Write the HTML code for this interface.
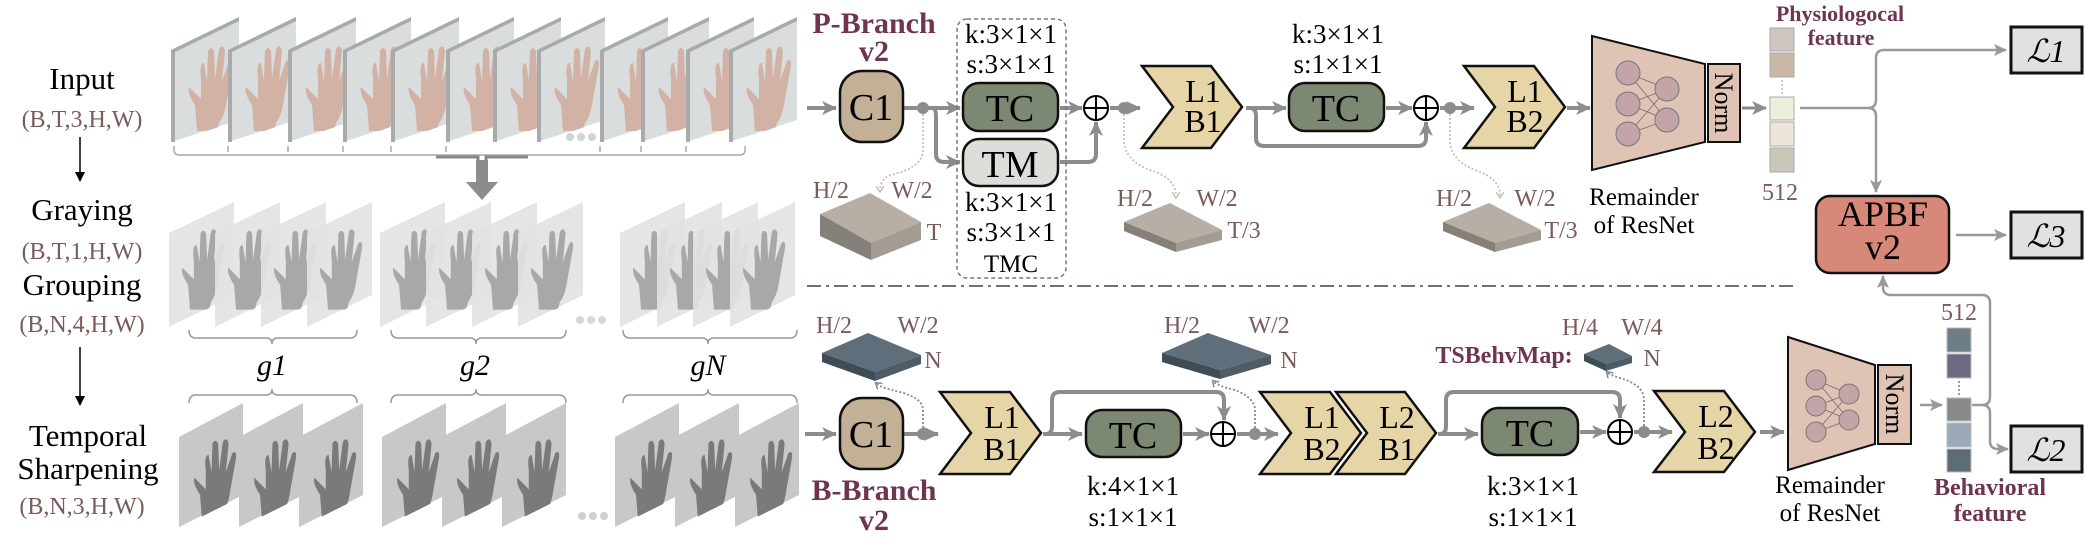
<!DOCTYPE html>
<html><head><meta charset="utf-8"><style>
html,body{margin:0;padding:0;background:#fff;}
svg{display:block;font-family:"Liberation Serif","DejaVu Serif",serif;}
svg text{font-family:"Liberation Serif","DejaVu Serif",serif;}
</style></head><body>
<svg width="2085" height="541" viewBox="0 0 2085 541" xmlns="http://www.w3.org/2000/svg" font-family="Liberation Serif, DejaVu Serif, serif">
<defs>
<marker id="ah" markerUnits="userSpaceOnUse" markerWidth="16" markerHeight="16" refX="14" refY="8" orient="auto"><path d="M0,1 L15,8 L0,15 L4,8 Z" fill="#8c8c8c"/></marker>
<marker id="ahs" markerUnits="userSpaceOnUse" markerWidth="14" markerHeight="12" refX="12" refY="6" orient="auto"><path d="M0,0 L13,6 L0,12 L3,6 Z" fill="#999"/></marker>
<marker id="ahd" markerUnits="userSpaceOnUse" markerWidth="8" markerHeight="8" refX="4" refY="4" orient="auto"><path d="M0,0 L6,4 L0,8" fill="none" stroke="#c8c0b4" stroke-width="1.5"/></marker>
<marker id="ahb" markerUnits="userSpaceOnUse" markerWidth="8" markerHeight="8" refX="4" refY="4" orient="auto"><path d="M0,0 L6,4 L0,8" fill="none" stroke="#7a8c9a" stroke-width="1.5"/></marker>
<g id="hand">
<path d="M20 108 L18 82 Q10 70 12 64 L24 76 L24 56 Q22 40 27 40 L30 58 L31 28 Q34 22 37 28 L38 56 L42 26 Q46 20 48 28 L45 58 L52 38 Q56 34 56 42 L50 76 Q48 92 42 100 L40 108 Z"/>
</g>
<g id="fi">
<polygon points="0,33 68,0 68,103 0,125" fill="#d9dddd"/>
<polygon points="0,33 68,0 68,4 4,35 4,125 0,125" fill="#a9abab"/>
<g fill="#d2b2a4" transform="translate(6,6)"><use href="#hand"/></g>
<polygon points="4,125 68,103 68,130 4,130" fill="#fff"/>
</g>
<g id="fg">
<polygon points="0,31 65,0 65,93 0,125" fill="#e2e2e2" fill-opacity="0.9"/>
<g fill="#a8a8a8" transform="translate(2,5) scale(0.95)"><use href="#hand"/></g>
<polygon points="0,126 65,94 65,130 0,130" fill="#fff"/>
</g>
<g id="ft">
<polygon points="0,34 64,0 64,92 0,124" fill="#c8c8c8"/>
<g fill="#7a7a7a" transform="translate(4,14) scale(0.95)"><use href="#hand"/></g>
<polygon points="0,125 64,93 64,130 0,130" fill="#fff"/>
</g>
</defs>

<!-- left labels -->
<g font-size="31" text-anchor="middle" fill="#000">
<text x="82" y="89">Input</text>
<text x="82" y="220">Graying</text>
<text x="82" y="295">Grouping</text>
<text x="88" y="446">Temporal</text>
<text x="88" y="479">Sharpening</text>
</g>
<g font-size="24" text-anchor="middle" fill="#7a5a5a">
<text x="82" y="127">(B,T,3,H,W)</text>
<text x="82" y="259">(B,T,1,H,W)</text>
<text x="82" y="332">(B,N,4,H,W)</text>
<text x="82" y="514">(B,N,3,H,W)</text>
</g>
<g stroke="#000" stroke-width="1.5"><line x1="80" y1="137" x2="80" y2="178"/><line x1="80" y1="347" x2="80" y2="402"/></g>
<path d="M75,172 L80,182 L85,172 Z M75,396 L80,406 L85,396 Z" fill="#000"/>

<!-- input frames -->
<g>
<use href="#fi" x="171" y="17"/><use href="#fi" x="228" y="17"/><use href="#fi" x="288" y="17"/><use href="#fi" x="343" y="17"/>
<use href="#fi" x="391" y="17"/><use href="#fi" x="446" y="17"/><use href="#fi" x="493" y="17"/><use href="#fi" x="537" y="17"/>
<use href="#fi" x="600" y="17"/><use href="#fi" x="641" y="17"/><use href="#fi" x="686" y="17"/><use href="#fi" x="729" y="17"/>
</g>
<g fill="#d0d4d4"><circle cx="570" cy="137" r="4"/><circle cx="581" cy="137" r="4"/><circle cx="592" cy="137" r="4"/></g>
<g fill="none" stroke="#aaa" stroke-width="1.5">
<path d="M174,146 V150 Q174,155 180,155 H740 Q745,155 745,150 V146"/>
<path d="M228,146 V152 M288,146 V152 M343,146 V152 M391,146 V152 M446,146 V152 M600,146 V152 M641,146 V152 M686,146 V152"/>
</g>
<path d="M436,157 H478 V165 M528,157 H486 V165" fill="none" stroke="#888" stroke-width="3"/>
<rect x="476" y="160" width="12" height="24" fill="#8c8c8c"/>
<path d="M466,182 L498,182 L482,200 Z" fill="#8c8c8c"/>

<!-- gray grouped frames -->
<use href="#fg" x="169" y="202"/><use href="#fg" x="215" y="202"/><use href="#fg" x="261" y="202"/><use href="#fg" x="307" y="202"/>
<use href="#fg" x="380" y="202"/><use href="#fg" x="426" y="202"/><use href="#fg" x="472" y="202"/><use href="#fg" x="518" y="202"/>
<use href="#fg" x="620" y="202"/><use href="#fg" x="657" y="202"/><use href="#fg" x="693" y="202"/><use href="#fg" x="730" y="202"/>
<g fill="#d8d8d8"><circle cx="580" cy="320" r="4"/><circle cx="591" cy="320" r="4"/><circle cx="602" cy="320" r="4"/></g>
<g fill="none" stroke="#999" stroke-width="1.5">
<path d="M189,330 Q189,338 196,338 H266 Q272,338 272,344 Q272,338 278,338 H350 Q357,338 357,330"/>
<path d="M391,330 Q391,338 398,338 H470 Q476,338 476,344 Q476,338 482,338 H559 Q566,338 566,330"/>
<path d="M623,330 Q623,338 630,338 H702 Q708,338 708,344 Q708,338 714,338 H790 Q797,338 797,330"/>
<path d="M189,403 Q189,395 196,395 H266 Q272,395 272,389 Q272,395 278,395 H350 Q357,395 357,403"/>
<path d="M391,403 Q391,395 398,395 H470 Q476,395 476,389 Q476,395 482,395 H559 Q566,395 566,403"/>
<path d="M623,403 Q623,395 630,395 H702 Q708,395 708,389 Q708,395 714,395 H790 Q797,395 797,403"/>
</g>
<g font-size="30" font-style="italic" text-anchor="middle"><text x="272" y="375">g1</text><text x="475" y="375">g2</text><text x="708" y="375">gN</text></g>

<!-- temporal frames -->
<use href="#ft" x="179" y="403"/><use href="#ft" x="239" y="403"/><use href="#ft" x="299" y="403"/>
<use href="#ft" x="382" y="403"/><use href="#ft" x="442" y="403"/><use href="#ft" x="502" y="403"/>
<use href="#ft" x="615" y="403"/><use href="#ft" x="675" y="403"/><use href="#ft" x="735" y="403"/>
<g fill="#d0d0d0"><circle cx="582" cy="516" r="4"/><circle cx="593" cy="516" r="4"/><circle cx="604" cy="516" r="4"/></g>

<!-- separator -->
<line x1="807" y1="286" x2="1798" y2="286" stroke="#7a6a7a" stroke-width="2" stroke-dasharray="14,5,3,5"/>

<!-- ===== P-branch ===== -->
<g font-size="30" font-weight="bold" fill="#6e3552" text-anchor="middle"><text x="874" y="33">P-Branch</text><text x="874" y="61">v2</text>
<text x="874" y="500">B-Branch</text><text x="874" y="530">v2</text></g>

<g fill="none" stroke="#8c8c8c" stroke-width="4">
<line x1="807" y1="108" x2="836" y2="108" marker-end="url(#ah)"/>
<line x1="903" y1="108" x2="960" y2="108" marker-end="url(#ah)"/>
<path d="M932,108 Q936,108 936,116 V154 Q936,162 944,162 H960" marker-end="url(#ah)"/>
<line x1="1060" y1="108" x2="1082" y2="108" marker-end="url(#ah)"/>
<path d="M1060,162 H1088 Q1096,162 1096,154 V122" marker-end="url(#ah)"/>
<line x1="1110" y1="108" x2="1140" y2="108" marker-end="url(#ah)"/>
<line x1="1246" y1="108" x2="1286" y2="108" marker-end="url(#ah)"/>
<path d="M1250,108 Q1256,108 1256,116 V138 Q1256,146 1264,146 H1418 Q1426,146 1426,138 V122" marker-end="url(#ah)"/>
<line x1="1386" y1="108" x2="1412" y2="108" marker-end="url(#ah)"/>
<line x1="1440" y1="108" x2="1474" y2="108" marker-end="url(#ah)"/>
<line x1="1567" y1="108" x2="1590" y2="108" marker-end="url(#ah)"/>
<line x1="1742" y1="108" x2="1766" y2="108" marker-end="url(#ah)" stroke-width="3"/>
</g>
<rect x="840" y="71" width="63" height="71" rx="22" fill="#c3b197" stroke="#111" stroke-width="2.5"/>
<text x="871" y="120" font-size="38" text-anchor="middle">C1</text>
<circle cx="923" cy="108" r="6" fill="#8c8c8c"/>
<rect x="963" y="83" width="95" height="48" rx="16" fill="#7d8872" stroke="#111" stroke-width="2.5"/>
<text x="1010" y="121" font-size="38" text-anchor="middle">TC</text>
<rect x="963" y="139" width="95" height="47" rx="16" fill="#ddddd9" stroke="#111" stroke-width="2.5"/>
<text x="1010" y="177" font-size="38" text-anchor="middle">TM</text>
<rect x="957" y="19" width="109" height="259" rx="10" fill="none" stroke="#777" stroke-width="1.5" stroke-dasharray="4,3"/>
<g font-size="27" text-anchor="middle">
<text x="1011" y="43">k:3×1×1</text><text x="1011" y="73">s:3×1×1</text>
<text x="1011" y="211">k:3×1×1</text><text x="1011" y="241">s:3×1×1</text>
<text x="1011" y="272" font-size="25">TMC</text>
<text x="1338" y="43">k:3×1×1</text><text x="1338" y="73">s:1×1×1</text>
<text x="1133" y="495">k:4×1×1</text><text x="1133" y="526">s:1×1×1</text>
<text x="1533" y="495">k:3×1×1</text><text x="1533" y="526">s:1×1×1</text>
</g>
<g fill="none" stroke="#000" stroke-width="2">
<circle cx="1096" cy="108" r="12"/><path d="M1084,108 H1108 M1096,96 V120"/>
<circle cx="1426" cy="108" r="12"/><path d="M1414,108 H1438 M1426,96 V120"/>
</g>
<circle cx="1124" cy="108" r="6" fill="#8c8c8c"/>
<circle cx="1450" cy="108" r="6" fill="#8c8c8c"/>
<polygon points="1142,66 1211,66 1242,107 1211,148 1142,148 1173,107" fill="#e6d5a6" stroke="#111" stroke-width="2.5"/>
<text x="1203" y="102" font-size="32" text-anchor="middle">L1</text><text x="1203" y="132" font-size="32" text-anchor="middle">B1</text>
<rect x="1289" y="83" width="95" height="48" rx="16" fill="#7d8872" stroke="#111" stroke-width="2.5"/>
<text x="1336" y="121" font-size="38" text-anchor="middle">TC</text>
<polygon points="1464,66 1534,66 1565,107 1534,148 1464,148 1495,107" fill="#e6d5a6" stroke="#111" stroke-width="2.5"/>
<text x="1525" y="102" font-size="32" text-anchor="middle">L1</text><text x="1525" y="132" font-size="32" text-anchor="middle">B2</text>

<g fill="none" stroke="#c8c0b4" stroke-width="1.8" stroke-dasharray="2,2">
<path d="M923,114 V150 Q923,168 890,175 Q880,180 880,190" marker-end="url(#ahd)"/>
<path d="M1124,114 V140 Q1124,160 1150,170 Q1176,178 1176,196" marker-end="url(#ahd)"/>
<path d="M1450,114 V140 Q1450,160 1475,170 Q1500,178 1500,196" marker-end="url(#ahd)"/>
</g>
<g>
<polygon points="820,214 870,193 921,222 871,243" fill="#b7aea5"/>
<polygon points="820,214 871,243 871,260 820,236" fill="#858079"/>
<polygon points="871,243 921,222 921,240 871,260" fill="#a39c93"/>
<polygon points="1124,222 1170,203 1222,230 1176,243" fill="#b7aea5"/>
<polygon points="1124,222 1176,243 1176,252 1124,231" fill="#858079"/>
<polygon points="1176,243 1222,230 1222,240 1176,252" fill="#a39c93"/>
<polygon points="1443,222 1489,203 1541,230 1495,243" fill="#b7aea5"/>
<polygon points="1443,222 1495,243 1495,252 1443,231" fill="#858079"/>
<polygon points="1495,243 1541,230 1541,240 1495,252" fill="#a39c93"/>
</g>
<g font-size="24" fill="#7a5a5a" text-anchor="middle">
<text x="831" y="198">H/2</text><text x="912" y="198">W/2</text><text x="934" y="240">T</text>
<text x="1135" y="206">H/2</text><text x="1217" y="206">W/2</text><text x="1244" y="238">T/3</text>
<text x="1454" y="206">H/2</text><text x="1535" y="206">W/2</text><text x="1561" y="238">T/3</text>
<text x="834" y="333">H/2</text><text x="918" y="333">W/2</text><text x="933" y="368">N</text>
<text x="1182" y="333">H/2</text><text x="1269" y="333">W/2</text><text x="1289" y="368">N</text>
<text x="1580" y="335">H/4</text><text x="1642" y="335">W/4</text><text x="1652" y="366">N</text>
<text x="1780" y="200">512</text><text x="1959" y="320">512</text>
</g>

<polygon points="1592,36 1705,64 1705,142 1592,170" fill="#dfc3b5" stroke="#111" stroke-width="2"/>
<g stroke="#7a6a6a" stroke-width="0.8"><path d="M1628,73 L1667,89 M1628,73 L1667,120 M1628,104 L1667,89 M1628,104 L1667,120 M1628,134 L1667,89 M1628,134 L1667,120"/></g>
<g fill="#c4a4a8" stroke="#777" stroke-width="1"><circle cx="1628" cy="73" r="12"/><circle cx="1628" cy="104" r="12"/><circle cx="1628" cy="134" r="12"/><circle cx="1667" cy="89" r="12"/><circle cx="1667" cy="120" r="12"/></g>
<rect x="1708" y="64" width="32" height="78" fill="#dfc3b5" stroke="#111" stroke-width="2"/>
<text transform="translate(1715,103) rotate(90)" font-size="26" text-anchor="middle">Norm</text>
<g font-size="25" text-anchor="middle"><text x="1644" y="205">Remainder</text><text x="1644" y="233">of ResNet</text>
<text x="1830" y="493">Remainder</text><text x="1830" y="521">of ResNet</text></g>

<rect x="1770" y="28" width="24" height="23" fill="#cdc5c0" stroke="#aaa"/>
<rect x="1770" y="53" width="24" height="24" fill="#c8b8a5" stroke="#aaa"/>
<line x1="1782" y1="80" x2="1782" y2="94" stroke="#ccc" stroke-width="2" stroke-dasharray="2,2"/>
<rect x="1770" y="97" width="24" height="23" fill="#eeeedd" stroke="#aaa"/>
<rect x="1770" y="122" width="24" height="24" fill="#ede4da" stroke="#aaa"/>
<rect x="1770" y="148" width="24" height="24" fill="#cac6ba" stroke="#aaa"/>
<g font-size="22" font-weight="bold" fill="#6e3552" text-anchor="middle"><text x="1840" y="21">Physiologocal</text><text x="1841" y="45">feature</text>
<text x="1990" y="495" font-size="24">Behavioral</text><text x="1990" y="521" font-size="24">feature</text>
<text x="1504" y="363" font-size="24">TSBehvMap:</text></g>

<g fill="none" stroke="#999" stroke-width="2.5">
<path d="M1800,108 H1868 Q1876,108 1876,100 V58 Q1876,50 1884,50 H2006" marker-end="url(#ahs)"/>
<path d="M1868,108 Q1876,108 1876,116 V192" marker-end="url(#ahs)"/>
<line x1="1956" y1="235" x2="2006" y2="235" marker-end="url(#ahs)"/>
<path d="M1972,405 H1982 Q1990,405 1990,397 V303 Q1990,295 1982,295 H1891 Q1883,295 1883,287 V276" marker-end="url(#ahs)"/>
<path d="M1982,405 Q1990,405 1990,413 V441 Q1990,449 1998,449 H2008" marker-end="url(#ahs)"/>
<line x1="1920" y1="405" x2="1942" y2="405" marker-end="url(#ahs)"/>
</g>
<rect x="2011" y="27" width="71" height="46" fill="#e0e2df" stroke="#111" stroke-width="3"/>
<rect x="2011" y="212" width="71" height="46" fill="#e0e2df" stroke="#111" stroke-width="3"/>
<rect x="2011" y="426" width="71" height="46" fill="#e0e2df" stroke="#111" stroke-width="3"/>
<g font-size="32" font-style="italic" text-anchor="middle"><text x="2046" y="62">ℒ1</text><text x="2046" y="247">ℒ3</text><text x="2046" y="461">ℒ2</text></g>
<rect x="1816" y="196" width="133" height="77" rx="14" fill="#d88878" stroke="#111" stroke-width="2.5"/>
<text x="1883" y="226" font-size="36" text-anchor="middle">APBF</text><text x="1883" y="259" font-size="36" text-anchor="middle">v2</text>

<!-- ===== B-branch ===== -->
<g fill="none" stroke="#8c8c8c" stroke-width="4">
<line x1="805" y1="434" x2="836" y2="434" marker-end="url(#ah)"/>
<line x1="903" y1="434" x2="938" y2="434" marker-end="url(#ah)"/>
<line x1="1043" y1="434" x2="1082" y2="434" marker-end="url(#ah)"/>
<path d="M1046,434 Q1052,434 1052,426 V400 Q1052,392 1060,392 H1216 Q1224,392 1224,400 V420" marker-end="url(#ah)"/>
<line x1="1183" y1="434" x2="1209" y2="434" marker-end="url(#ah)"/>
<line x1="1237" y1="434" x2="1278" y2="434" marker-end="url(#ah)"/>
<line x1="1438" y1="434" x2="1478" y2="434" marker-end="url(#ah)"/>
<path d="M1440,434 Q1446,434 1446,426 V400 Q1446,392 1454,392 H1612 Q1620,392 1620,400 V418" marker-end="url(#ah)"/>
<line x1="1580" y1="432" x2="1606" y2="432" marker-end="url(#ah)"/>
<line x1="1634" y1="432" x2="1672" y2="432" marker-end="url(#ah)"/>
<line x1="1760" y1="432" x2="1784" y2="432" marker-end="url(#ah)"/>
</g>
<rect x="840" y="398" width="63" height="71" rx="22" fill="#c3b197" stroke="#111" stroke-width="2.5"/>
<text x="871" y="447" font-size="38" text-anchor="middle">C1</text>
<circle cx="923" cy="434" r="6" fill="#8c8c8c"/>
<polygon points="940,392 1010,392 1041,433 1010,474 940,474 971,433" fill="#e6d5a6" stroke="#111" stroke-width="2.5"/>
<text x="1002" y="428" font-size="32" text-anchor="middle">L1</text><text x="1002" y="460" font-size="32" text-anchor="middle">B1</text>
<rect x="1086" y="410" width="95" height="47" rx="16" fill="#7d8872" stroke="#111" stroke-width="2.5"/>
<text x="1133" y="448" font-size="38" text-anchor="middle">TC</text>
<g fill="none" stroke="#000" stroke-width="2">
<circle cx="1223" cy="434" r="12"/><path d="M1211,434 H1235 M1223,422 V446"/>
<circle cx="1620" cy="432" r="12"/><path d="M1608,432 H1632 M1620,420 V444"/>
</g>
<circle cx="1255" cy="434" r="6" fill="#8c8c8c"/>
<polygon points="1260,392 1330,392 1361,433 1330,474 1260,474 1291,433" fill="#e6d5a6" stroke="#111" stroke-width="2.5"/>
<text x="1322" y="428" font-size="32" text-anchor="middle">L1</text><text x="1322" y="460" font-size="32" text-anchor="middle">B2</text>
<polygon points="1336,392 1405,392 1436,433 1405,474 1336,474 1367,433" fill="#e6d5a6" stroke="#111" stroke-width="2.5"/>
<text x="1397" y="428" font-size="32" text-anchor="middle">L2</text><text x="1397" y="460" font-size="32" text-anchor="middle">B1</text>
<rect x="1482" y="408" width="96" height="47" rx="16" fill="#7d8872" stroke="#111" stroke-width="2.5"/>
<text x="1530" y="446" font-size="38" text-anchor="middle">TC</text>
<circle cx="1644" cy="432" r="6" fill="#8c8c8c"/>
<polygon points="1654,391 1724,391 1755,432 1724,472 1654,472 1685,432" fill="#e6d5a6" stroke="#111" stroke-width="2.5"/>
<text x="1716" y="427" font-size="32" text-anchor="middle">L2</text><text x="1716" y="459" font-size="32" text-anchor="middle">B2</text>

<g fill="none" stroke="#7a8c9a" stroke-width="1.8" stroke-dasharray="2,2">
<path d="M923,428 V410 Q923,398 900,392 Q882,388 877,384" marker-end="url(#ahb)"/>
<path d="M1255,428 V410 Q1255,398 1235,390 Q1218,386 1214,382" marker-end="url(#ahb)"/>
<path d="M1644,426 V400 Q1644,385 1620,378 Q1610,375 1608,373" marker-end="url(#ahb)"/>
</g>
<g>
<polygon points="822,353 868,333 921,355 875,372" fill="#5e6e7a"/>
<polygon points="822,353 875,372 875,381 822,362" fill="#3e4c56"/>
<polygon points="875,372 921,355 921,364 875,381" fill="#4e5c68"/>
<polygon points="1162,353 1208,333 1271,355 1220,370" fill="#5e6e7a"/>
<polygon points="1162,353 1220,370 1220,379 1162,362" fill="#3e4c56"/>
<polygon points="1220,370 1271,355 1271,364 1220,379" fill="#4e5c68"/>
<polygon points="1584,354 1609,344 1632,356 1606,364" fill="#5e6e7a"/>
<polygon points="1584,354 1606,364 1606,371 1584,361" fill="#3e4c56"/>
<polygon points="1606,364 1632,356 1632,363 1606,371" fill="#4e5c68"/>
</g>

<polygon points="1788,337 1875,365 1875,444 1788,470" fill="#dfc3b5" stroke="#111" stroke-width="2"/>
<g stroke="#7a6a6a" stroke-width="0.8"><path d="M1816,380 L1849,394 M1816,380 L1849,420 M1816,406 L1849,394 M1816,406 L1849,420 M1816,432 L1849,394 M1816,432 L1849,420"/></g>
<g fill="#c4a4a8" stroke="#777" stroke-width="1"><circle cx="1816" cy="380" r="10"/><circle cx="1816" cy="406" r="10"/><circle cx="1816" cy="432" r="10"/><circle cx="1849" cy="394" r="10"/><circle cx="1849" cy="420" r="10"/></g>
<rect x="1878" y="365" width="33" height="79" fill="#dfc3b5" stroke="#111" stroke-width="2"/>
<text transform="translate(1886,404) rotate(90)" font-size="26" text-anchor="middle">Norm</text>

<rect x="1947" y="328" width="24" height="24" fill="#6e7e88" stroke="#bbb"/>
<rect x="1947" y="354" width="24" height="24" fill="#6e6a82" stroke="#bbb"/>
<line x1="1959" y1="381" x2="1959" y2="395" stroke="#99a" stroke-width="2" stroke-dasharray="2,2"/>
<rect x="1947" y="398" width="24" height="23" fill="#8a8a8a" stroke="#bbb"/>
<rect x="1947" y="423" width="24" height="24" fill="#9aaab8" stroke="#bbb"/>
<rect x="1947" y="449" width="24" height="23" fill="#5e6c78" stroke="#bbb"/>
</svg>
</body></html>
